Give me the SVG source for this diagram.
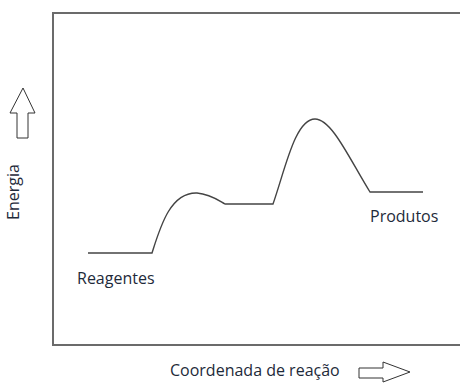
<svg xmlns="http://www.w3.org/2000/svg" width="460" height="383" viewBox="0 0 460 383">
<style>
.frame{fill:none;stroke:#6b6b6b;stroke-width:2}
.curve{fill:none;stroke:#444;stroke-width:1.4}
.arr{fill:#fff;stroke:#333;stroke-width:1}
.lbl{font-family:"Open Sans","Noto Sans","DejaVu Sans",sans-serif;font-size:16px;fill:#1e2a3a}
</style>
<rect width="460" height="383" fill="#fff"/>
<g id="frame">
<path class="frame" d="M462,13 H53 V345 H462"/>
</g>
<g id="connectors">
<path class="curve" d="M88,253 L152,253 C160,228 170,192 197,193 C210,194 218,200 225,204 L273,204 C285,170 295,119 315,119 C332,119 350,160 370,192 L423,192"/>
</g>
<g id="energy-axis">
<polygon class="arr" points="23,88 35,113 28,113 28,138 17,138 17,113 10,113"/>
<text class="lbl" transform="translate(19,192) rotate(-90)" text-anchor="middle">Energia</text>
</g>
<g id="reaction-axis">
<text class="lbl" x="170" y="376">Coordenada de reação</text>
<polygon class="arr" points="359,368 383,368 383,362 410,372 383,382 383,378 359,378"/>
</g>
<g id="reagentes">
<text class="lbl" x="77" y="284">Reagentes</text>
</g>
<g id="produtos">
<text class="lbl" x="370" y="222">Produtos</text>
</g>
</svg>
